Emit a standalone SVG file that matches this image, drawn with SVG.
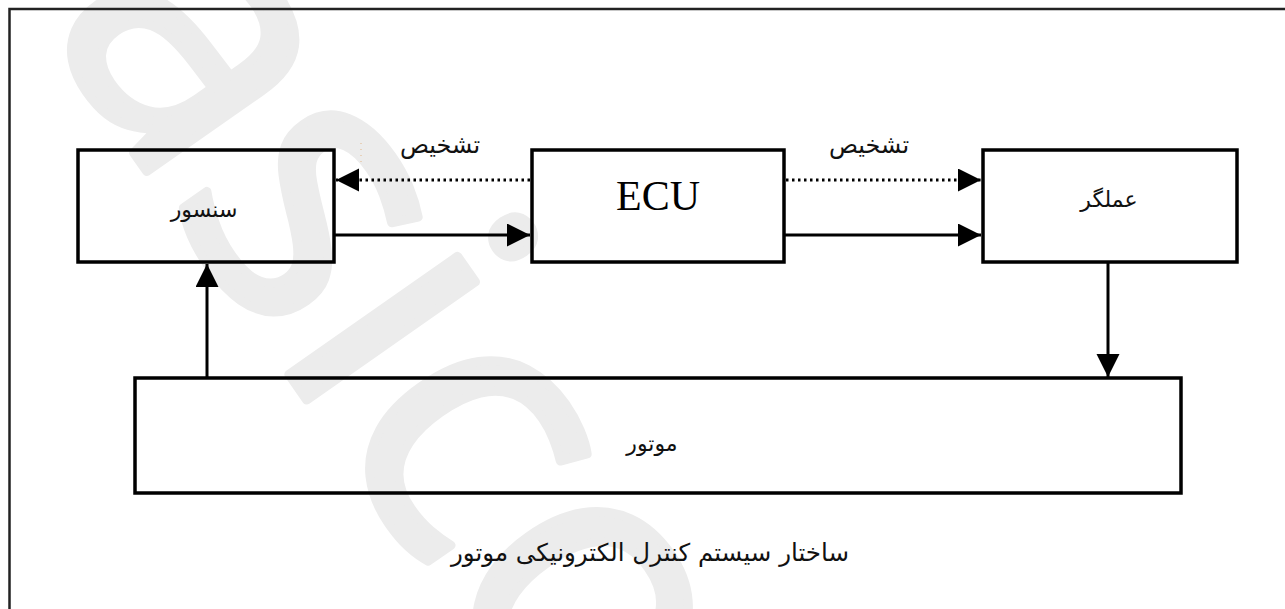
<svg xmlns="http://www.w3.org/2000/svg" width="1285" height="609" viewBox="0 0 1285 609">
<style>
.box{fill:none;stroke:#000;stroke-width:3.5}
.ln{fill:none;stroke:#000;stroke-width:3}
.dot{fill:none;stroke:#000;stroke-width:3;stroke-dasharray:2.5 3.5}
.fa{font-family:"DejaVu Sans",sans-serif;fill:#111;text-anchor:middle}
.wm{font-family:"Open Sans","DejaVu Sans",sans-serif;fill:#ececec;stroke:#ececec;stroke-width:9;stroke-linejoin:round}
</style>
<defs>
<marker id="ah" markerUnits="userSpaceOnUse" markerWidth="24" markerHeight="24" refX="23" refY="11.5" orient="auto">
<path d="M0,0 L23,11.5 L0,23 z" fill="#000"/>
</marker>
</defs>
<rect width="1285" height="609" fill="#fff"/>
<g id="watermark">
<text class="wm" font-size="385" transform="translate(42,22) rotate(55)">asico</text>
</g>
<path d="M9.5,609 V9 H1285" fill="none" stroke="#222" stroke-width="2.5"/>
<g id="sensor">
<rect class="box" x="78" y="150" width="256" height="112"/>
<text class="fa" x="204" y="217" font-size="22">سنسور</text>
</g>
<g id="ecu">
<rect class="box" x="532" y="150" width="252" height="112"/>
<text x="658" y="210" font-size="42" text-anchor="middle" font-family="'Liberation Serif',serif" fill="#000">ECU</text>
</g>
<g id="actuator">
<rect class="box" x="983" y="150" width="254" height="112"/>
<text class="fa" x="1109" y="207" font-size="22">عملگر</text>
</g>
<g id="motor">
<rect class="box" x="135" y="378" width="1046" height="115"/>
<text class="fa" x="652" y="451" font-size="22">موتور</text>
</g>
<g id="connectors">
<line class="dot" x1="530" y1="180" x2="336" y2="180" marker-end="url(#ah)"/>
<line class="ln" x1="334" y1="235" x2="530" y2="235" marker-end="url(#ah)"/>
<line class="dot" x1="786" y1="180" x2="981" y2="180" marker-end="url(#ah)"/>
<line class="ln" x1="784" y1="235" x2="981" y2="235" marker-end="url(#ah)"/>
<line class="ln" x1="1108" y1="263" x2="1108" y2="377" marker-end="url(#ah)"/>
<line class="ln" x1="207" y1="378" x2="207" y2="264" marker-end="url(#ah)"/>
</g>
<g id="labels">
<text class="fa" x="440" y="153" font-size="24">تشخیص</text>
<text class="fa" x="869" y="153" font-size="24">تشخیص</text>
<line x1="361" y1="143" x2="361" y2="166" stroke="#e0a060" stroke-width="1" stroke-dasharray="1 5" opacity="0.7"/>
<text class="fa" x="650" y="561" font-size="24.5">ساختار سیستم کنترل الکترونیکی موتور</text>
</g>
</svg>
